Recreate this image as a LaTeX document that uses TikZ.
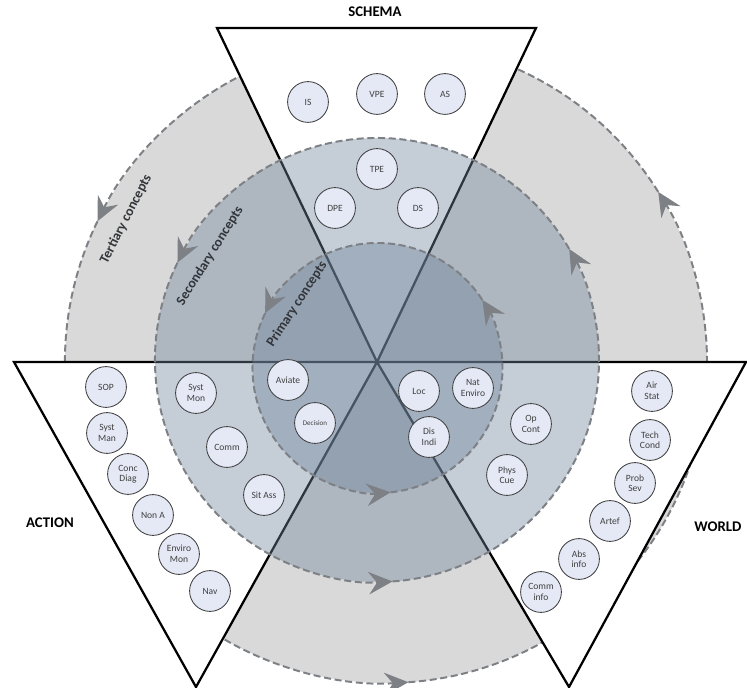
\documentclass[tikz,border=0pt]{standalone}
\usepackage{fontspec}
\setmainfont{Carlito}
\usetikzlibrary{arrows.meta}

\tikzset{
  concept/.style={circle, draw=conceptedge, fill=conceptfill, line width=0.6pt,
    minimum size=1.02cm, inner sep=0pt, align=center, text=conceptedge,
    font=\fontsize{6.8}{7.5}\selectfont},
  corner/.style={font=\fontsize{10.5}{12}\selectfont\bfseries, text=black},
  ringname/.style={font=\fontsize{9.8}{11}\selectfont\bfseries, text=labelgrey,
    inner sep=0pt},
  ring line/.style={color=ringgrey, dash pattern=on 5pt off 2.6pt,
    line width=1.4pt, -{Stealth[length=17pt, width=16pt, inset=6pt]}},
  wedge/.style={fill=white, draw=black, line width=1.6pt, line join=miter},
}

\begin{document}
\begin{tikzpicture}[x=0.025cm, y=0.025cm]
% Defining colors
\definecolor{ringgrey}{RGB}{125,128,132}
\definecolor{bandblue}{RGB}{110,130,155}
\definecolor{conceptfill}{RGB}{228,233,245}
\definecolor{conceptedge}{RGB}{64,64,64}
\definecolor{labelgrey}{RGB}{50,53,58}

\useasboundingbox (-377,-326) rectangle (370,362);

% =:=:=:=:=:=:=:=:=:=:=:=:=:=:=:=:=:=:=
% Tertiary ring (back layer)
% =:=:=:=:=:=:=:=:=:=:=:=:=:=:=:=:=:=:=
\coordinate (c3) at (9,0);
\fill[black!15] (c3) circle[radius=321];
\draw[ring line] (c3) ++(32:321)  arc[start angle=32,  end angle=154, radius=321];
\draw[ring line] (c3) ++(154:321) arc[start angle=154, end angle=274, radius=321];
\draw[ring line] (c3) ++(274:321) arc[start angle=274, end angle=392, radius=321];

% =:=:=:=:=:=:=:=:=:=:=:=:=:=:=:=:=:=:=
% The three wedges
% =:=:=:=:=:=:=:=:=:=:=:=:=:=:=:=:=:=:=
\coordinate (o) at (0,0);
\coordinate (s1) at (-160,334);
\coordinate (s2) at (159,334);
\coordinate (a1) at (-363,0);
\coordinate (a2) at (-181,-325);
\coordinate (w1) at (192,-325);
\coordinate (w2) at (369,0);

\filldraw[wedge] (o) -- (s1) -- (s2) -- cycle;
\filldraw[wedge] (o) -- (a1) -- (a2) -- cycle;
\filldraw[wedge] (o) -- (w1) -- (w2) -- cycle;

% =:=:=:=:=:=:=:=:=:=:=:=:=:=:=:=:=:=:=
% Secondary and primary rings
% =:=:=:=:=:=:=:=:=:=:=:=:=:=:=:=:=:=:=
\coordinate (c2) at (0,2);
\coordinate (c1) at (0.5,-6);
\fill[bandblue, fill opacity=0.4] (c2) circle[radius=222];
\draw[ring line] (c2) ++(30:222)  arc[start angle=30,  end angle=154, radius=222];
\draw[ring line] (c2) ++(154:222) arc[start angle=154, end angle=274, radius=222];
\draw[ring line] (c2) ++(274:222) arc[start angle=274, end angle=390, radius=222];

\fill[bandblue, fill opacity=0.4] (c1) circle[radius=125];
\draw[ring line] (c1) ++(33:125)  arc[start angle=33,  end angle=154, radius=125];
\draw[ring line] (c1) ++(154:125) arc[start angle=154, end angle=276, radius=125];
\draw[ring line] (c1) ++(276:125) arc[start angle=276, end angle=393, radius=125];

% ring names
\node[ringname, rotate=63] (tertiary)  at (-251,143) {Tertiary concepts};
\node[ringname, rotate=58] (secondary) at (-167,106) {Secondary concepts};
\node[ringname, rotate=57] (primary)   at (-80,58)   {Primary concepts};

% =:=:=:=:=:=:=:=:=:=:=:=:=:=:=:=:=:=:=
% Schema concepts
% =:=:=:=:=:=:=:=:=:=:=:=:=:=:=:=:=:=:=
\node[concept] (is)  at (-69,260) {IS};
\node[concept] (vpe) at (0,268)   {VPE};
\node[concept] (as)  at (68,268)  {AS};
\node[concept] (tpe) at (0,193)   {TPE};
\node[concept] (dpe) at (-42,154) {DPE};
\node[concept] (ds)  at (41,154)  {DS};

% =:=:=:=:=:=:=:=:=:=:=:=:=:=:=:=:=:=:=
% Action concepts
% =:=:=:=:=:=:=:=:=:=:=:=:=:=:=:=:=:=:=
\node[concept] (aviate)    at (-89,-18)   {Aviate};
\node[concept, font=\fontsize{5}{6}\selectfont]
               (decision)  at (-62,-61)   {Decision};
\node[concept] (systmon)   at (-181,-31)  {Syst\\Mon};
\node[concept] (comm)      at (-150,-85)  {Comm};
\node[concept] (sitass)    at (-113,-133) {Sit Ass};
\node[concept] (sop)       at (-271,-25)  {SOP};
\node[concept] (systman)   at (-270,-71)  {Syst\\Man};
\node[concept] (concdiag)  at (-249,-112) {Conc\\Diag};
\node[concept] (nona)      at (-224,-153) {Non A};
\node[concept] (enviromon) at (-198,-192) {Enviro\\Mon};
\node[concept] (nav)       at (-167,-229) {Nav};

% =:=:=:=:=:=:=:=:=:=:=:=:=:=:=:=:=:=:=
% World concepts
% =:=:=:=:=:=:=:=:=:=:=:=:=:=:=:=:=:=:=
\node[concept] (loc)       at (42,-29)   {Loc};
\node[concept] (natenviro) at (96,-26)   {Nat\\Enviro};
\node[concept] (disindi)   at (52,-75)   {Dis\\Indi};
\node[concept] (opcont)    at (154,-62)  {Op\\Cont};
\node[concept] (physcue)   at (130,-113) {Phys\\Cue};
\node[concept] (airstat)   at (275,-29)  {Air\\Stat};
\node[concept] (techcond)  at (273,-78)  {Tech\\Cond};
\node[concept] (probsev)   at (258,-121) {Prob\\Sev};
\node[concept] (artef)     at (233,-159) {Artef};
\node[concept] (absinfo)   at (202,-197) {Abs\\info};
\node[concept] (comminfo)  at (164,-230) {Comm\\info};

% wedge names
\node[corner] (schema) at (-2,350)    {SCHEMA};
\node[corner] (action) at (-327,-161) {ACTION};
\node[corner] (world)  at (341,-165)  {WORLD};

\end{tikzpicture}
\end{document}
